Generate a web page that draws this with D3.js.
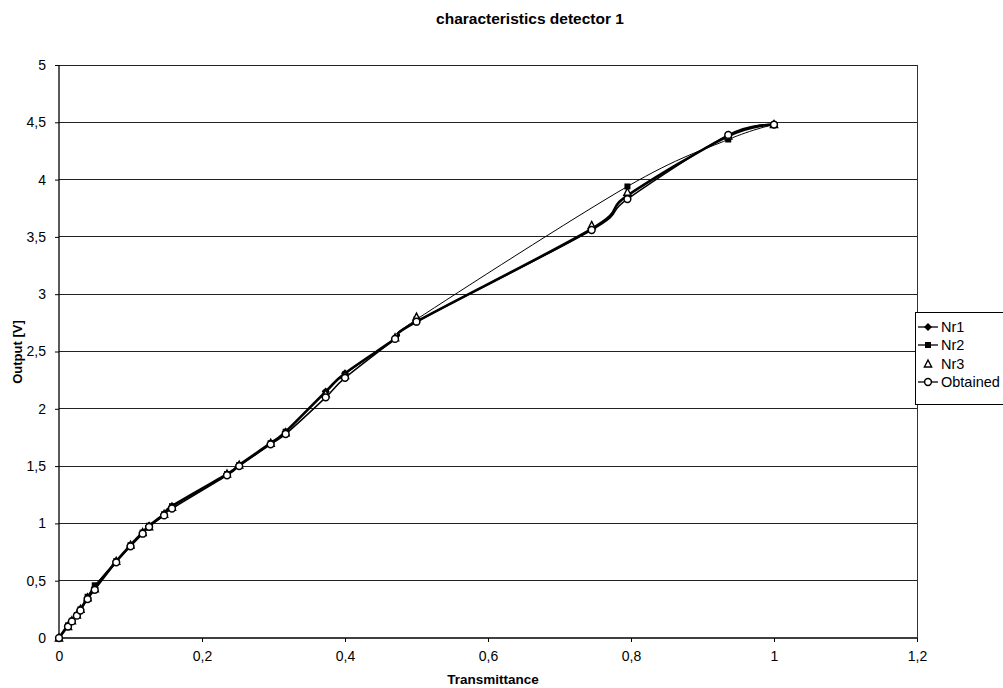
<!DOCTYPE html>
<html>
<head>
<meta charset="utf-8">
<script src="https://cdn.jsdelivr.net/npm/d3@7/dist/d3.min.js"></script>
<style>
  html, body { margin: 0; padding: 0; background: #fff; }
  svg { display: block; font-family: "Liberation Sans", Arial, sans-serif; }
</style>
</head>
<body>
<svg id="chart" width="1003" height="688"></svg>
<script>
// Transmittance of the filters used for each measurement
const xVals = [0, 0.0126, 0.018, 0.025, 0.03, 0.04, 0.05, 0.08, 0.1, 0.117, 0.126, 0.147, 0.158,
               0.235, 0.252, 0.296, 0.317, 0.373, 0.4, 0.47, 0.5, 0.745, 0.795, 0.936, 1.0];
// Measured output voltages [V]
const nr1 = [0, 0.11, 0.15, 0.20, 0.25, 0.35, 0.44, 0.67, 0.81, 0.92, 0.98, 1.08, 1.15,
             1.43, 1.51, 1.70, 1.80, 2.15, 2.31, 2.61, 2.76, 3.57, 3.86, 4.38, 4.48];
const nr2X = [0, 0.0126, 0.018, 0.025, 0.03, 0.04, 0.05, 0.08, 0.1, 0.117, 0.126, 0.147, 0.158,
              0.235, 0.252, 0.296, 0.317, 0.373, 0.4, 0.47, 0.5, 0.795, 0.936, 1.0];
const nr2 = [0, 0.11, 0.15, 0.20, 0.25, 0.36, 0.46, 0.67, 0.81, 0.92, 0.98, 1.08, 1.15,
             1.43, 1.51, 1.70, 1.80, 2.14, 2.30, 2.61, 2.78, 3.94, 4.35, 4.48];
const nr3 = [0, 0.10, 0.15, 0.20, 0.25, 0.35, 0.43, 0.67, 0.81, 0.92, 0.97, 1.08, 1.14,
             1.43, 1.51, 1.70, 1.79, 2.13, 2.29, 2.62, 2.80, 3.60, 3.89, 4.38, 4.48];
const obtained = [0, 0.10, 0.145, 0.195, 0.24, 0.34, 0.42, 0.66, 0.80, 0.91, 0.97, 1.07, 1.13,
                  1.42, 1.50, 1.69, 1.78, 2.10, 2.27, 2.61, 2.76, 3.56, 3.83, 4.39, 4.48];

const xTicks = [0, 0.2, 0.4, 0.6, 0.8, 1, 1.2];
const yTicks = [0, 0.5, 1, 1.5, 2, 2.5, 3, 3.5, 4, 4.5, 5];
const seriesNames = ["Nr1", "Nr2", "Nr3", "Obtained"];

const svg = d3.select("#chart");
const plot = { left: 59, right: 917, top: 65, bottom: 638 };

const x = d3.scaleLinear().domain([0, 1.2]).range([plot.left, plot.right]);
const y = d3.scaleLinear().domain([0, 5]).range([plot.bottom, plot.top]);
const fmt = d => String(d).replace(".", ",");

// Title
svg.append("text").attr("x", 530).attr("y", 24).attr("text-anchor", "middle")
  .style("font-size", "15.5px").style("font-weight", "bold").text("characteristics detector 1");

// Horizontal gridlines
svg.append("g").selectAll("line").data(yTicks.filter(d => d > 0)).join("line")
  .attr("x1", plot.left).attr("x2", plot.right)
  .attr("y1", d => y(d)).attr("y2", d => y(d))
  .attr("stroke", "#222").attr("stroke-width", 1).attr("shape-rendering", "crispEdges");

// Right border of plot area
svg.append("line").attr("x1", plot.right).attr("x2", plot.right)
  .attr("y1", plot.top).attr("y2", plot.bottom)
  .attr("stroke", "#333").attr("stroke-width", 1).attr("shape-rendering", "crispEdges");

// Axes
const xAxis = d3.axisBottom(x).tickValues(xTicks).tickFormat(fmt).tickSize(4).tickPadding(9);
const yAxis = d3.axisLeft(y).tickValues(yTicks).tickFormat(fmt).tickSize(4).tickPadding(9);

const gx = svg.append("g").attr("transform", `translate(0,${plot.bottom})`).call(xAxis);
const gy = svg.append("g").attr("transform", `translate(${plot.left},0)`).call(yAxis);
[gx, gy].forEach(g => {
  g.select(".domain").attr("stroke", "#000").attr("stroke-width", 1.3);
  g.selectAll(".tick line").attr("stroke", "#000");
  g.selectAll(".tick text").attr("fill", "#000")
    .style("font-size", "14px").style("font-family", "'Liberation Sans', Arial, sans-serif");
});
gx.select(".domain").attr("d", `M${plot.left},0H${plot.right}`);
gy.select(".domain").attr("d", `M0,${plot.bottom}V${plot.top}`);

// Axis titles
svg.append("text").attr("x", 493).attr("y", 684).attr("text-anchor", "middle")
  .style("font-size", "13.5px").style("font-weight", "bold").text("Transmittance");
svg.append("text").attr("transform", "translate(22,352) rotate(-90)").attr("text-anchor", "middle")
  .style("font-size", "13px").style("font-weight", "bold").text("Output [V]");

// Series
const toPts = (xs, ys) => xs.map((v, i) => [v, ys[i]]);
const line = d3.line().x(d => x(d[0])).y(d => y(d[1])).curve(d3.curveCardinal.tension(0));

const series = [
  { name: "Nr1", pts: toPts(xVals, nr1), width: 2.6, line: true, marker: "diamond" },
  { name: "Nr2", pts: toPts(nr2X, nr2), width: 1, line: true, marker: "square" },
  { name: "Nr3", pts: toPts(xVals, nr3), width: 0, line: false, marker: "triangle" },
  { name: "Obtained", pts: toPts(xVals, obtained), width: 1.5, line: true, marker: "circle" }
];

function drawMarker(g, type, cx, cy) {
  if (type === "diamond") {
    g.append("path").attr("d", `M${cx},${cy - 4}L${cx + 4},${cy}L${cx},${cy + 4}L${cx - 4},${cy}Z`)
      .attr("fill", "#000");
  } else if (type === "square") {
    g.append("rect").attr("x", cx - 3).attr("y", cy - 3).attr("width", 6).attr("height", 6)
      .attr("fill", "#000");
  } else if (type === "triangle") {
    g.append("path").attr("d", `M${cx},${cy - 4}L${cx + 3.6},${cy + 3}L${cx - 3.6},${cy + 3}Z`)
      .attr("fill", "#fff").attr("stroke", "#000").attr("stroke-width", 1.4);
  } else {
    g.append("circle").attr("cx", cx).attr("cy", cy).attr("r", 3.4)
      .attr("fill", "#fff").attr("stroke", "#000").attr("stroke-width", 1.5);
  }
}

series.forEach(s => {
  const g = svg.append("g");
  if (s.line) {
    g.append("path").attr("d", line(s.pts)).attr("fill", "none")
      .attr("stroke", "#000").attr("stroke-width", s.width).attr("stroke-linejoin", "round");
  }
  s.pts.forEach(p => drawMarker(g, s.marker, x(p[0]), y(p[1])));
});

// Legend
const lg = svg.append("g");
lg.append("rect").attr("x", 915.5).attr("y", 312.5).attr("width", 95).attr("height", 92)
  .attr("fill", "#fff").attr("stroke", "#000").attr("stroke-width", 1);
const legendY = [327, 345, 364, 382];
series.forEach((s, i) => {
  const ly = legendY[i];
  if (s.line) {
    lg.append("line").attr("x1", 918).attr("x2", 938).attr("y1", ly).attr("y2", ly)
      .attr("stroke", "#000").attr("stroke-width", 1.3);
  }
  drawMarker(lg, s.marker, 928, ly);
  lg.append("text").attr("x", 941).attr("y", ly + 5).style("font-size", "14.5px").text(seriesNames[i]);
});
</script>
</body>
</html>
